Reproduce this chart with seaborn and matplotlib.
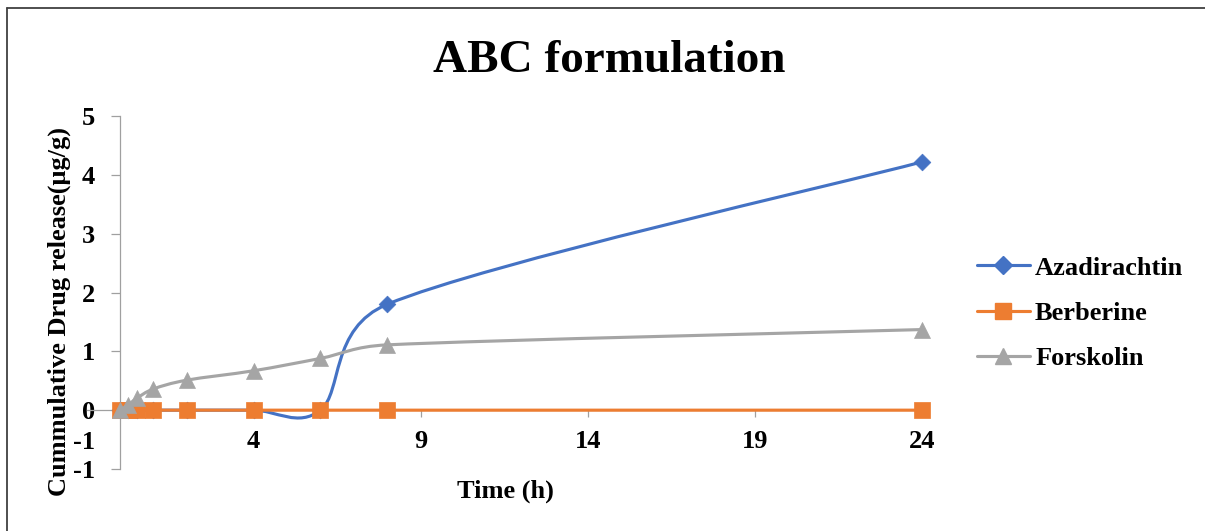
import numpy as np
import pandas as pd
import seaborn as sns
import matplotlib
matplotlib.use("Agg")
import matplotlib.pyplot as plt
from matplotlib.path import Path
from matplotlib.patches import PathPatch
from matplotlib.lines import Line2D

# ---------------- data ----------------
time_h = [0, 0.25, 0.5, 1, 2, 4, 6, 8, 24]
azadirachtin = [0, 0, 0, 0, 0, 0, 0, 1.80, 4.22]
berberine = [0, 0, 0, 0, 0, 0, 0, 0, 0]
forskolin = [0, 0.09, 0.20, 0.36, 0.51, 0.67, 0.88, 1.11, 1.37]
series_names = ["Azadirachtin", "Berberine", "Forskolin"]
x_ticks = [4, 9, 14, 19, 24]
y_ticks = [-1, 0, 1, 2, 3, 4, 5]
y_tick_labels = ["-1", "0", "1", "2", "3", "4", "5"]
y_extra_tick = [-0.5]
y_extra_label = ["-1"]
title = "ABC formulation"
x_label = "Time (h)"
y_label = "Cummulative Drug release(\u03bcg/g)"

colors = ["#4472C4", "#ED7D31", "#A5A5A5"]
markers = ["D", "s", "^"]
msizes = [8.5, 11.5, 11.5]

sns.set_theme(style="white")
plt.rcParams["font.family"] = ["Liberation Serif", "DejaVu Serif"]
plt.rcParams["font.weight"] = "bold"
plt.rcParams["axes.unicode_minus"] = False
plt.rcParams["text.color"] = "black"
plt.rcParams["xtick.color"] = "black"
plt.rcParams["ytick.color"] = "black"
plt.rcParams["xtick.labelcolor"] = "black"
plt.rcParams["ytick.labelcolor"] = "black"

W, H = 1205, 531
fig = plt.figure(figsize=(W / 100, H / 100), dpi=100)
fig.patch.set_facecolor("white")

left_px, right_px, top_px, bot_px = 86.5, 922, 116, 469
ax = fig.add_axes([left_px / W, 1 - bot_px / H, (right_px - left_px) / W, (bot_px - top_px) / H])
ax.set_xlim(-1, 24)
ax.set_ylim(-1, 5)
ax.set_facecolor("none")

axis_col = "#A0A0A0"
for s in ["top", "right"]:
    ax.spines[s].set_visible(False)
ax.spines["left"].set_position(("data", 0))
ax.spines["bottom"].set_position(("data", 0))
for s in ["left", "bottom"]:
    ax.spines[s].set_color(axis_col)
    ax.spines[s].set_linewidth(0.9)
    ax.spines[s].set_zorder(1)

FS = 19
ax.set_xticks(x_ticks)
ax.set_xticklabels([str(v) for v in x_ticks])
ax.set_yticks(y_ticks)
ax.set_yticklabels(y_tick_labels)
ax.set_yticks(y_extra_tick, minor=True)
ax.set_yticklabels(y_extra_label, minor=True)
ax.tick_params(axis="x", which="major", direction="out", length=5, width=0.9, color=axis_col,
               pad=9.5, labelsize=FS, bottom=True, labelcolor="black")
ax.tick_params(axis="y", which="major", direction="out", length=6.5, width=0.9, color=axis_col,
               pad=11.5, labelsize=FS, left=True, labelcolor="black")
ax.tick_params(axis="y", which="minor", length=0, pad=18, labelsize=FS, left=True, labelcolor="black")
for lab in ax.get_xticklabels() + ax.get_yticklabels() + ax.get_yticklabels(minor=True):
    lab.set_fontweight("bold")
    lab.set_color("black")
ax.grid(False)


def excel_smooth(xs, ys):
    pts = ax.transData.transform(np.column_stack([xs, ys]))
    n = len(pts)
    verts = [pts[0]]
    codes = [Path.MOVETO]
    for i in range(n - 1):
        p0 = pts[i - 1] if i > 0 else pts[i]
        p1 = pts[i]
        p2 = pts[i + 1]
        p3 = pts[i + 2] if i + 2 < n else pts[i + 1]
        d12 = np.linalg.norm(p2 - p1)
        d02 = np.linalg.norm(p2 - p0)
        d13 = np.linalg.norm(p3 - p1)
        f1 = 1 / 6
        f2 = 1 / 6
        if d02 > 0 and d02 * f1 > d12 / 2:
            f1 = (d12 / 2) / d02
        if d13 > 0 and d13 * f2 > d12 / 2:
            f2 = (d12 / 2) / d13
        c1 = p1 + (p2 - p0) * f1
        c2 = p2 - (p3 - p1) * f2
        verts += [c1, c2, p2]
        codes += [Path.CURVE4] * 3
    vd = ax.transData.inverted().transform(np.array(verts))
    return Path(vd, codes)


all_vals = [azadirachtin, berberine, forskolin]
for k, (name, vals) in enumerate(zip(series_names, all_vals)):
    z = 3 + k * 2
    path = excel_smooth(time_h, vals)
    ax.add_patch(PathPatch(path, fill=False, edgecolor=colors[k], lw=2.25,
                           capstyle="round", joinstyle="round", zorder=z))
    df = pd.DataFrame({"t": time_h, "v": vals})
    sns.scatterplot(data=df, x="t", y="v", ax=ax, marker=markers[k], s=msizes[k] ** 2,
                    color=colors[k], edgecolor=colors[k], linewidth=0.5, zorder=z + 1,
                    legend=False, clip_on=False)

ax.set_xlabel("")
ax.set_ylabel("")

# texts
fig.text(609 / W, 1 - 72 / H, title, ha="center", va="baseline", fontsize=34, fontweight="bold",
         color="black")
fig.text(505 / W, 1 - 498 / H, x_label, ha="center", va="baseline", fontsize=FS, fontweight="bold",
         color="black")
fig.text(59 / W, 1 - 312 / H, y_label, ha="center", va="center", rotation=90, fontsize=FS,
         fontweight="bold", color="black")

# legend
handles = [Line2D([], [], color=colors[k], lw=2.25, marker=markers[k], markersize=msizes[k] + 0.5,
                  markeredgecolor=colors[k]) for k in range(3)]
leg = fig.legend(handles, series_names, loc="center left", bbox_to_anchor=(977 / W, 1 - 313 / H),
                 frameon=False, borderpad=0, borderaxespad=0, handlelength=2.0, handletextpad=0.2,
                 labelspacing=0.82, prop={"size": FS, "weight": "bold"})
for t in leg.get_texts():
    t.set_color("black")

# chart-area border (top and left visible)
bcol = "#404040"
fig.add_artist(Line2D([7.5 / W, 7.5 / W], [1 - 8 / H, 0], transform=fig.transFigure, color=bcol, lw=1.3))
fig.add_artist(Line2D([7.5 / W, 1], [1 - 8 / H, 1 - 8 / H], transform=fig.transFigure, color=bcol, lw=1.3))

fig.savefig("out.png", dpi=100)
